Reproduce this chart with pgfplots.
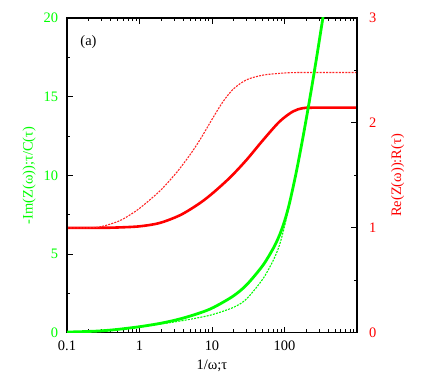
\documentclass[border=0pt]{standalone}
\usepackage{fontspec}
\setmainfont{Liberation Serif}
\usepackage{pgfplots}
\pgfplotsset{compat=1.18}
\definecolor{gnured}{RGB}{255,0,0}
\definecolor{gnugreen}{RGB}{0,255,0}
\begin{document}
\fontsize{14.5}{17}\selectfont
\begin{tikzpicture}
\pgfplotsset{every axis/.append style={
  scale only axis, width=290bp, height=314.7bp,
  xmode=log, xmin=0.1, xmax=1000,
  /pgf/number format/assume math mode=true,
  tick align=inside, major tick length=6bp, minor tick length=3.5bp,
  every tick/.style={black, line width=0.9bp},
  every minor tick/.style={black, line width=0.9bp},
  axis line style={line width=1.1bp},
  tick label style={font=\fontsize{14.5}{17}\selectfont},
  label style={font=\fontsize{14.5}{17}\selectfont},
  clip=true,
}}
% red curves (right axis)
\begin{axis}[
  ymin=0, ymax=3,
  axis y line*=right, axis x line=none,
  ytick={0,1,2,3}, minor ytick={0.5,1.5,2.5},
  yticklabel style={gnured, xshift=7bp},
  ylabel={Re(Z(ω)):R(τ)}, ylabel style={gnured, yshift=-5bp},
]
\addplot[gnured, line width=2.6bp, smooth] coordinates {
(0.1,1.0) (0.3,1.0) (0.5,1.003) (1,1.014) (1.9,1.046) (3.7,1.123) (6.8,1.235) (10.5,1.337) (18,1.484) (30,1.648) (50,1.832) (85,2.011) (130,2.108) (178,2.14) (250,2.145) (1000,2.145)};
\addplot[gnured!85!white, line width=1.1bp, dash pattern=on 2bp off 1.2bp, smooth] coordinates {
(0.1,1.0) (0.2,1.0) (0.3,1.012) (0.5,1.059) (0.66,1.102) (1,1.185) (1.9,1.35) (3,1.499) (3.7,1.576) (5,1.698) (6.2,1.794) (7.5,1.886) (10.5,2.058) (14.4,2.209) (20,2.327) (30,2.411) (50,2.455) (85,2.472) (150,2.48) (1000,2.48)};
\end{axis}
% green curves (left axis)
\begin{axis}[
  ymin=0, ymax=20,
  ytick={0,5,10,15,20}, minor ytick={2.5,7.5,12.5,17.5},
  ytick pos=left, xtick pos=both, xticklabel pos=lower,
  xtick={0.1,1,10,100,1000}, xticklabels={0.1,1,10,100,},
  minor xtick={0.2,0.3,0.4,0.5,0.6,0.7,0.8,0.9,2,3,4,5,6,7,8,9,20,30,40,50,60,70,80,90,200,300,400,500,600,700,800,900},
  yticklabel style={gnugreen, xshift=-4bp},
  xticklabel style={yshift=-3bp},
  ylabel={-Im(Z(ω));τ/C(τ)}, ylabel style={gnugreen, yshift=-2bp},
  xlabel={1/ω;τ},
]
\addplot[gnugreen, line width=2.8bp, smooth] coordinates {
(0.1,0.04) (0.2,0.08) (0.3,0.12) (0.5,0.21) (1,0.38) (2,0.606) (3.7,0.886) (6.8,1.256) (10.5,1.606) (19.5,2.32) (30,3.04) (50,4.26) (70,5.36) (85,6.18) (100,7.08) (117,8.22) (144,10.11) (178,12.31) (220,14.7) (271,17.2) (333,19.8) (360,20.8)};
\addplot[gnugreen, line width=1.1bp, dash pattern=on 2bp off 1.2bp, smooth] coordinates {
(0.1,0.04) (0.2,0.08) (0.3,0.12) (0.5,0.21) (1,0.37) (2,0.56) (3.7,0.747) (6.8,0.97) (10.5,1.17) (20,1.62) (30,2.15) (50,3.4) (70,4.6) (85,5.55) (100,6.75) (117,8.15) (144,10.1)};
\node[font=\fontsize{14.5}{17}\selectfont] at (rel axis cs:0.074,0.925) {(a)};
\end{axis}
\pgfresetboundingbox
\path (-67bp,-49.3bp) rectangle (369bp,332.7bp);
\end{tikzpicture}
\end{document}
